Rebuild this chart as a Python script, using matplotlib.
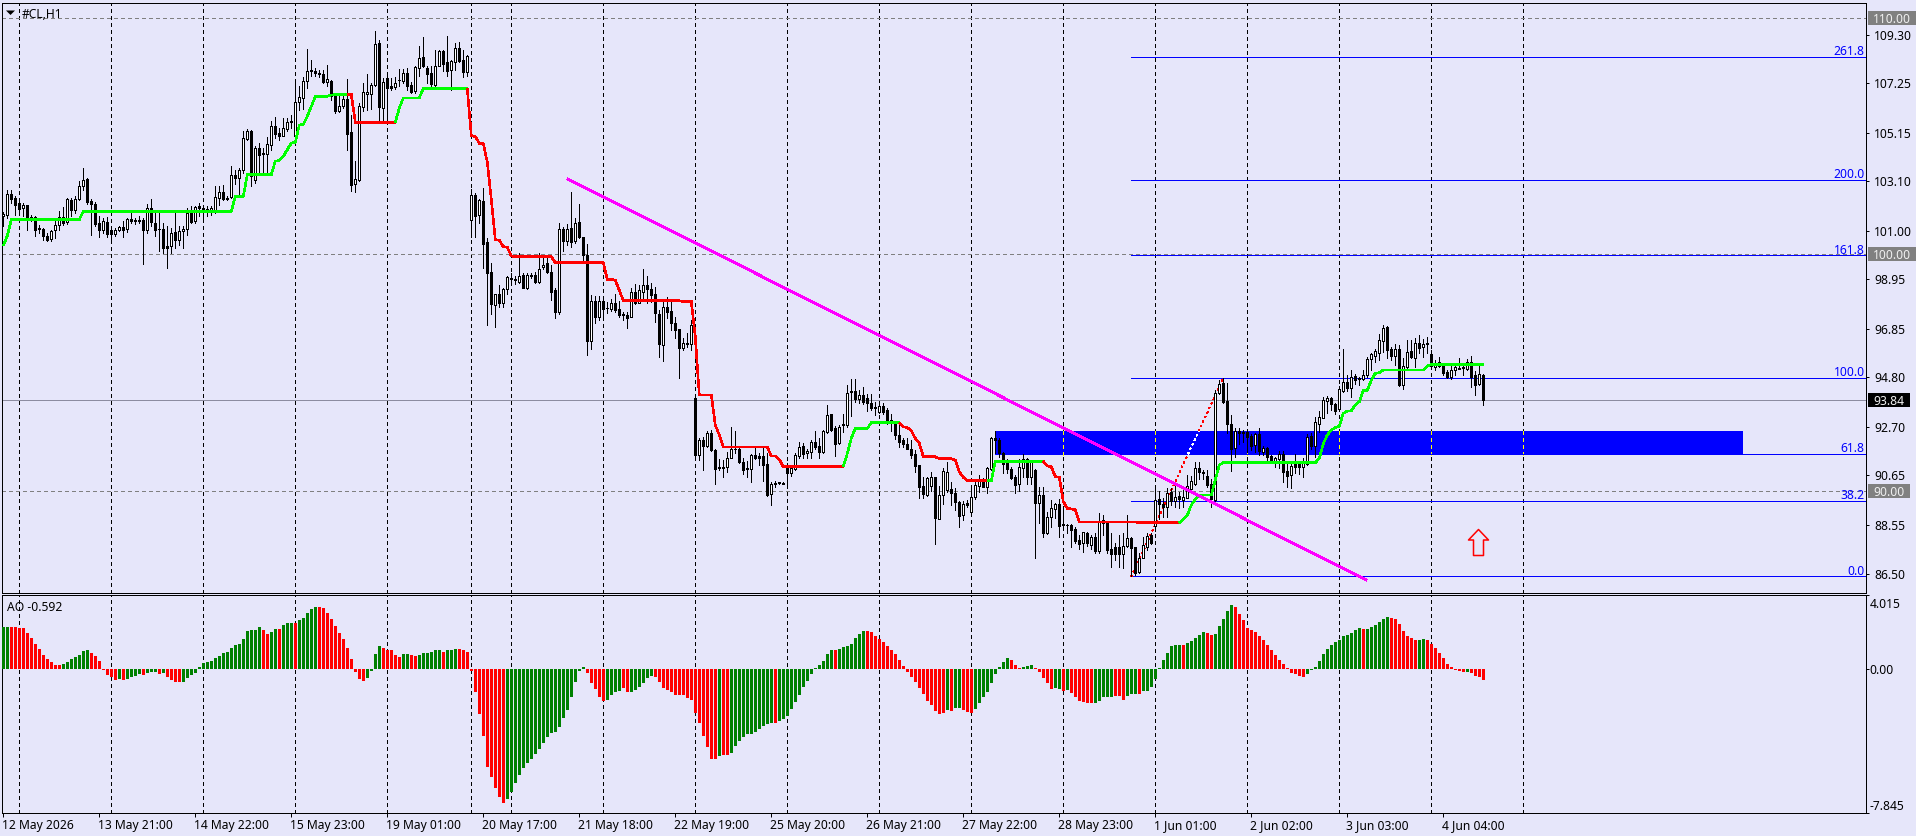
import matplotlib
matplotlib.use("Agg")
import matplotlib.pyplot as plt
import matplotlib.transforms as mtransforms
from matplotlib.patches import Polygon, Rectangle
from matplotlib.path import Path
import numpy as np

# Hourly #CL candles
opens = [
    101.61,101.68,102.54,102.39,102.18,101.96,102.09,101.47,101.58,101.10,
    101.08,100.79,100.65,101.02,101.23,101.58,101.36,102.32,101.86,102.34,
    102.88,103.19,102.26,102.15,101.33,101.02,101.39,101.05,100.85,101.02,
    101.16,101.08,101.51,101.47,101.47,101.47,101.05,101.96,101.33,101.09,
    101.08,100.34,100.37,100.93,100.60,100.98,101.08,101.75,101.40,102.05,
    101.98,101.92,101.86,101.81,102.40,102.65,102.37,102.42,103.37,103.22,
    103.56,104.88,105.22,103.16,104.50,104.29,104.25,104.63,105.45,105.14,
    105.02,105.31,105.64,104.99,106.43,106.60,107.34,107.80,107.76,107.69,
    107.65,107.31,107.34,106.69,106.05,106.26,106.57,105.16,102.97,103.15,
    106.24,106.80,106.80,107.15,108.94,106.18,107.45,107.11,107.08,107.37,
    107.34,107.67,107.18,106.90,107.89,108.36,107.90,107.67,107.18,107.98,
    108.60,108.13,107.82,108.15,108.73,108.21,107.70,101.45,102.51,101.66,
    102.24,100.52,99.25,97.87,98.31,97.93,98.52,98.99,98.96,98.85,
    99.11,98.58,99.15,99.11,98.83,99.45,99.62,99.27,98.49,97.56,
    101.07,100.55,101.10,100.55,101.37,100.72,99.99,96.35,98.01,97.36,
    98.01,97.74,97.70,97.93,97.67,97.48,97.45,97.35,98.39,97.96,
    98.42,98.69,98.55,98.32,97.50,96.18,97.77,97.59,97.08,96.83,
    96.04,96.26,96.22,93.91,91.51,92.15,91.89,92.43,91.72,91.02,
    91.00,91.02,91.41,91.78,91.78,91.20,90.95,90.91,91.50,91.47,
    91.47,91.13,89.85,90.30,90.33,90.33,91.05,90.74,90.93,91.47,
    91.89,91.58,91.64,92.06,91.89,91.65,92.48,93.25,92.64,92.03,
    92.82,92.78,94.18,94.21,93.87,94.05,93.94,93.73,93.56,93.35,
    93.58,93.42,92.99,92.88,92.37,92.15,91.98,91.79,91.55,91.09,
    90.21,89.83,90.20,90.57,88.82,89.81,90.03,90.06,89.89,89.52,
    88.96,89.47,89.10,89.72,90.20,90.45,90.17,90.93,92.22,92.17,
    91.61,91.16,90.91,90.57,90.27,90.96,91.33,90.57,90.88,89.50,
    89.82,88.23,88.88,89.24,89.44,88.58,88.57,88.54,88.38,87.92,
    87.80,88.20,87.70,88.06,87.47,88.76,88.71,87.56,87.61,87.63,
    87.32,87.66,88.00,87.61,86.56,87.17,87.63,88.13,88.51,89.64,
    89.44,89.33,89.95,89.58,89.78,89.61,89.71,90.09,90.31,90.95,
    90.81,90.62,90.29,89.61,94.15,94.54,93.80,92.82,91.80,92.51,
    92.50,92.49,92.33,91.92,92.40,91.65,91.81,91.47,91.19,91.36,
    91.55,90.84,90.67,91.16,91.19,91.02,91.13,92.32,91.89,92.84,
    93.09,93.81,93.92,93.67,93.47,94.21,94.60,94.33,94.85,94.77,
    94.71,94.91,95.56,95.71,95.84,96.35,96.91,95.99,95.71,96.02,
    94.47,95.25,95.90,95.63,96.24,96.07,96.24,95.78,95.25,95.47,
    95.32,95.02,94.80,95.11,95.19,95.22,95.15,95.47,94.90,94.52,
    94.90,
]
highs = [
    101.81,102.71,102.71,102.46,102.25,102.18,102.09,101.68,101.64,101.26,
    101.10,100.91,101.05,101.47,101.82,102.01,102.39,102.39,102.46,103.09,
    103.66,103.23,102.34,102.20,101.61,101.54,101.58,101.19,101.12,101.19,
    101.40,101.54,101.75,101.54,101.64,101.54,102.15,102.34,101.75,101.75,
    101.33,101.19,101.12,101.75,101.19,101.19,101.96,102.04,102.06,102.18,
    102.10,102.04,102.06,102.88,102.91,102.95,102.46,103.75,103.58,103.66,
    105.21,105.30,105.25,104.57,104.71,104.50,104.97,105.63,105.81,105.35,
    105.77,105.77,105.91,107.39,107.14,107.50,108.69,108.24,107.89,107.81,
    107.79,108.03,107.36,106.83,106.83,106.69,107.42,105.91,103.94,106.40,
    107.25,107.65,107.25,109.45,109.06,107.46,107.56,107.46,107.50,107.84,
    107.84,107.89,107.28,107.96,108.80,109.20,107.98,107.96,108.66,108.66,
    108.66,109.23,108.24,108.94,109.00,108.66,108.45,102.78,102.61,102.33,
    102.79,100.68,99.62,98.32,98.70,98.56,99.08,99.23,99.08,100.04,
    99.20,99.23,99.23,99.27,100.04,99.83,99.90,99.55,98.56,101.34,
    101.17,101.28,102.64,101.52,102.13,100.75,100.44,98.28,98.24,98.24,
    98.24,98.00,98.10,98.32,98.04,97.58,97.58,98.60,98.73,98.70,
    99.39,99.08,98.77,98.63,97.65,98.07,98.18,98.00,97.36,96.83,
    96.45,96.66,97.22,93.91,92.22,92.29,92.53,92.57,91.75,91.33,
    91.30,91.65,92.68,92.51,91.87,91.41,91.27,91.55,91.89,91.58,
    91.84,91.58,90.38,90.43,90.38,90.38,91.16,91.09,91.58,92.08,
    92.01,91.75,92.17,92.54,92.22,92.57,93.63,93.27,92.74,92.78,
    93.27,94.47,94.71,94.71,94.26,94.40,94.09,94.09,93.77,93.77,
    93.70,93.49,93.27,92.91,92.78,92.22,92.22,92.15,91.72,91.09,
    90.57,90.60,90.81,90.60,90.20,90.95,91.22,90.38,90.10,89.58,
    89.58,89.61,90.24,90.38,90.67,90.53,91.02,92.29,92.53,92.22,
    91.65,91.33,91.02,90.67,91.33,91.55,91.41,91.30,90.91,90.17,
    90.17,89.12,89.61,89.47,89.67,89.21,88.59,88.59,88.48,88.13,
    88.27,88.27,88.13,88.23,89.05,88.97,88.72,88.20,87.78,88.13,
    88.20,88.97,88.03,87.63,87.35,88.06,88.20,88.20,90.06,90.00,
    89.68,90.10,90.10,90.31,89.96,90.03,90.67,90.62,91.24,91.23,
    90.88,90.88,90.52,94.26,94.69,94.76,94.54,93.20,92.64,92.64,
    92.57,92.57,92.40,92.43,92.64,91.89,91.84,91.51,91.44,91.70,
    91.70,91.23,91.13,91.54,91.27,91.37,92.40,92.46,93.13,93.39,
    93.95,94.01,93.98,93.70,94.43,96.02,94.90,95.11,94.94,94.83,
    95.11,95.64,95.84,96.02,96.63,97.01,96.97,96.07,96.21,96.17,
    95.60,96.38,96.38,96.45,96.59,96.41,96.49,95.95,95.53,95.67,
    95.39,95.11,95.42,95.36,95.60,95.42,95.56,95.70,95.08,95.32,
    94.94,
]
lows = [
    101.22,101.54,102.18,101.68,101.68,101.61,101.05,101.40,100.77,100.91,
    100.59,100.55,100.55,100.69,101.05,101.26,101.30,101.61,101.75,102.32,
    102.74,102.15,100.84,101.19,100.74,100.91,100.74,100.48,100.79,100.98,
    100.74,100.93,101.33,101.30,101.33,99.61,100.91,101.19,100.79,100.13,
    100.06,99.41,100.06,100.27,100.41,100.27,100.84,101.33,101.33,101.61,
    101.47,101.61,101.68,101.75,102.10,102.32,102.32,102.39,102.99,102.46,
    103.44,104.85,102.91,103.02,103.37,103.47,103.44,104.43,104.93,104.85,
    104.99,105.21,105.35,104.97,106.12,106.15,107.04,107.53,107.56,107.50,
    107.25,107.11,106.55,105.98,106.01,106.19,104.43,102.67,102.63,103.09,
    106.05,106.12,106.15,107.11,105.56,105.56,105.56,106.97,106.99,107.11,
    107.25,106.97,106.83,106.83,107.53,107.93,107.25,107.00,107.14,107.96,
    107.74,107.56,106.97,107.82,108.13,107.50,107.56,100.75,100.75,101.31,
    99.41,97.01,97.50,96.94,97.76,97.76,98.32,98.70,98.75,98.77,
    98.56,98.52,98.99,98.77,98.80,99.39,99.23,98.07,97.29,97.48,
    100.16,100.40,100.30,100.49,100.68,99.76,95.74,96.02,97.08,97.22,
    97.36,97.53,97.62,97.58,97.36,97.22,96.90,97.34,97.90,97.93,
    98.04,97.93,98.00,97.15,95.67,95.50,97.29,96.80,96.45,94.76,
    95.95,96.09,95.95,91.33,91.30,90.88,91.84,91.70,90.29,90.88,
    90.60,90.81,91.37,91.58,91.16,90.71,90.57,90.37,91.33,91.09,
    90.43,89.78,89.40,90.17,90.31,90.29,90.24,90.62,90.88,91.37,
    91.41,91.37,91.41,91.79,91.37,91.58,92.46,92.54,91.47,91.98,
    92.50,92.71,93.16,93.77,93.70,93.67,93.39,93.44,93.20,93.30,
    93.25,92.82,92.54,92.18,91.84,91.84,91.75,91.37,90.81,89.68,
    89.68,89.78,90.00,87.75,88.79,89.44,89.96,89.40,89.19,88.48,
    88.76,89.33,89.02,89.64,89.96,90.17,89.92,90.88,91.58,91.44,
    90.77,90.77,90.48,89.89,90.00,90.57,90.31,90.29,87.14,88.62,
    88.03,88.17,88.48,88.83,88.06,88.51,88.23,87.63,87.78,87.56,
    87.42,87.66,87.56,87.35,87.35,88.13,87.35,86.79,87.07,86.79,
    86.72,87.61,86.39,86.44,86.51,87.14,87.49,87.75,88.30,88.79,
    88.90,88.90,89.40,89.33,89.26,89.33,89.68,90.03,90.24,90.52,
    90.48,90.17,89.30,89.44,94.09,93.73,92.43,90.85,91.44,91.98,
    92.08,91.65,91.72,91.65,91.51,91.51,91.30,91.16,90.99,90.95,
    90.38,90.15,90.10,90.74,90.71,90.60,91.09,91.79,91.44,92.50,
    93.06,93.30,93.44,93.25,93.42,94.18,94.23,93.95,94.52,94.49,
    94.69,94.83,95.11,95.46,95.53,95.88,95.60,95.53,95.32,94.43,
    94.29,95.17,95.60,95.25,95.84,95.64,95.84,95.25,95.11,95.22,
    94.90,94.76,94.74,94.90,95.14,94.90,95.11,94.40,94.05,94.47,
    93.63,
]
closes = [
    101.70,102.54,102.36,102.08,101.93,102.08,101.44,101.58,101.05,101.08,
    100.79,100.63,100.99,101.24,101.57,101.33,102.34,101.86,102.34,102.91,
    103.15,102.20,102.12,101.30,101.02,101.40,100.88,100.85,101.05,101.16,
    101.05,101.51,101.40,101.41,101.41,101.05,101.96,101.36,101.05,101.06,
    100.29,100.29,100.91,100.60,100.99,101.08,101.75,101.39,102.01,101.98,
    101.89,101.88,101.98,102.43,102.64,102.34,102.34,103.36,103.22,103.58,
    104.92,105.22,103.30,104.49,104.22,104.25,104.67,105.45,105.08,105.02,
    105.35,105.62,105.59,106.45,106.66,107.35,107.76,107.74,107.67,107.65,
    107.31,107.42,106.69,106.05,106.26,106.59,105.11,102.94,103.19,106.26,
    106.87,106.86,107.18,108.91,106.24,107.29,107.03,107.05,107.27,107.39,
    107.67,107.11,106.88,107.91,108.31,107.98,107.62,107.21,107.98,108.60,
    108.04,107.76,108.18,108.73,108.17,107.70,108.38,102.51,101.62,102.30,
    100.44,99.23,97.90,98.31,97.96,98.52,99.03,98.94,98.92,99.10,
    98.56,99.15,99.08,98.83,99.39,99.56,99.27,98.42,97.56,101.06,
    100.58,101.09,100.54,101.34,100.72,99.99,96.35,98.01,97.34,98.01,
    97.70,97.72,97.93,97.65,97.45,97.42,97.31,98.39,97.96,98.49,
    98.69,98.52,98.29,97.53,96.22,97.76,97.58,97.08,96.80,96.04,
    96.24,96.22,97.03,91.51,92.15,91.89,92.46,91.72,90.93,90.96,
    90.98,91.41,91.75,91.75,91.22,90.88,90.91,91.51,91.39,91.41,
    91.09,89.82,90.31,90.34,90.38,90.31,90.77,90.95,91.50,91.84,
    91.55,91.67,92.06,91.84,91.65,92.51,93.22,92.57,91.99,92.71,
    92.77,94.15,94.21,93.87,94.04,93.75,93.70,93.50,93.51,93.58,
    93.32,92.96,92.85,92.37,92.08,91.98,91.79,91.51,91.04,90.17,
    89.86,90.55,90.57,88.83,89.81,90.82,90.79,89.89,89.52,88.93,
    89.44,89.42,89.72,90.24,90.48,90.17,90.95,92.22,92.15,91.58,
    91.13,90.91,90.53,90.24,90.99,91.33,90.57,91.24,89.50,89.82,
    88.23,88.88,89.26,89.43,88.51,88.54,88.54,88.34,87.89,87.75,
    88.24,87.78,88.06,87.47,88.73,88.65,87.49,87.32,87.32,87.32,
    87.68,88.00,87.58,86.53,87.18,87.69,88.09,87.80,89.61,89.44,
    89.30,89.89,89.58,89.75,89.64,89.72,90.20,90.41,90.95,90.78,
    90.76,90.24,89.67,94.15,94.50,93.77,92.82,91.78,92.54,92.46,
    92.43,92.26,91.89,92.39,91.70,91.80,91.44,91.19,91.37,91.54,
    90.79,90.64,91.05,91.02,91.02,91.16,92.26,91.89,92.91,93.11,
    93.84,93.92,93.67,93.36,94.29,94.60,94.33,94.83,94.69,94.71,
    94.91,95.57,95.77,95.90,96.38,96.87,95.95,95.71,95.98,94.47,
    95.28,95.88,95.67,96.24,96.04,96.19,96.19,95.28,95.39,95.28,
    94.97,94.80,95.11,95.22,95.16,95.18,95.45,94.83,94.47,94.94,
    93.84,
]

# Trailing stop line, one value per candle
stop_line = (
    [100.37, 100.79] + [101.47]*18 + [101.82]*38 + [102.46]*3 + [103.37]*7
    + [103.95, 103.97, 104.15, 104.43, 104.71, 104.74, 105.47, 105.50, 105.84, 106.26, 106.67]
    + [106.69]*3 + [106.74] + [106.76]*5 + [105.59]*11 + [106.19] + [106.62]*5 + [107.01]*12
    + [105.02, 104.99, 104.70, 104.69, 103.90, 102.32, 100.62, 100.60, 100.33, 100.30, 99.93]
    + [99.90]*10 + [99.65]*13 + [98.94, 98.94, 98.91, 98.49] + [98.04]*15 + [98.00]*3
    + [96.52] + [94.05]*4 + [92.78, 92.36] + [91.86]*12 + [91.47, 91.47, 91.33] + [91.02]*16
    + [91.58, 92.22] + [92.64]*4 + [92.88]*8
    + [92.71, 92.68, 92.54, 92.22, 92.01] + [91.44]*4 + [91.36]*4 + [91.30, 90.81, 90.57]
    + [90.43]*7 + [91.25]*13 + [91.05, 91.02, 90.60, 90.57, 89.54, 89.26, 89.23, 89.21]
    + [88.69]*15 + [88.65]*11 + [88.79, 88.97, 89.40, 89.64] + [89.82]*4 + [90.46, 91.09]
    + [91.19]*24 + [91.37, 92.00, 92.36, 92.57, 92.67, 92.74, 93.28, 93.37, 93.39, 93.63, 93.77,
       94.24, 94.25, 94.68, 94.97, 95.00] + [95.11]*11 + [95.28] + [95.34]*14
)
# Alternating run lengths of the stop line, starting with the bullish colour
stop_runs = [87, 12, 18, 94, 14, 22, 14, 34, 76]

# Awesome Oscillator values
ao_values = [
    2.29,2.29,2.29,2.29,2.25,2.24,1.98,1.69,1.38,1.09,
    0.78,0.53,0.38,0.22,0.22,0.27,0.40,0.56,0.65,0.78,
    1.00,1.04,0.87,0.71,0.44,-0.04,-0.33,-0.44,-0.60,-0.56,
    -0.60,-0.53,-0.44,-0.36,-0.29,-0.33,-0.22,-0.18,-0.16,-0.27,
    -0.22,-0.44,-0.60,-0.71,-0.71,-0.71,-0.49,-0.33,-0.24,0.11,
    0.35,0.38,0.44,0.60,0.71,0.87,0.93,1.15,1.31,1.36,
    1.64,2.04,2.13,2.13,2.29,2.13,1.91,2.02,2.18,2.18,
    2.40,2.51,2.51,2.51,2.67,2.78,3.05,3.27,3.38,3.38,
    3.33,3.05,2.73,2.35,1.96,1.64,1.15,0.55,-0.16,-0.55,
    -0.65,-0.49,-0.11,0.82,1.25,1.15,1.04,1.04,0.76,0.65,
    0.82,0.82,0.76,0.71,0.76,0.87,0.87,0.93,1.04,1.04,
    0.93,1.04,1.04,1.09,1.09,1.04,0.93,-0.11,-1.25,-2.45,
    -3.65,-5.35,-5.89,-6.49,-6.98,-7.31,-7.09,-6.71,-6.22,-5.78,
    -5.40,-5.13,-4.91,-4.64,-4.36,-4.04,-3.71,-3.49,-3.44,-3.16,
    -2.67,-2.24,-1.51,-0.71,-0.11,0.11,-0.22,-0.76,-1.09,-1.53,
    -1.75,-1.69,-1.42,-1.25,-1.20,-1.02,-1.24,-1.25,-1.15,-0.98,
    -0.75,-0.49,-0.38,-0.44,-0.71,-1.04,-1.15,-1.25,-1.42,-1.42,
    -1.42,-1.58,-1.69,-2.40,-2.95,-3.65,-4.25,-4.91,-4.91,-4.75,
    -4.69,-4.69,-4.58,-4.20,-3.93,-3.71,-3.55,-3.53,-3.44,-3.27,
    -3.11,-3.00,-2.95,-2.95,-2.84,-2.73,-2.56,-2.18,-1.80,-1.42,
    -0.98,-0.65,-0.27,0.05,0.22,0.44,0.82,1.04,1.04,1.09,
    1.20,1.25,1.36,1.69,1.91,2.07,2.07,2.02,1.80,1.64,
    1.47,1.25,1.04,0.82,0.49,0.16,-0.15,-0.42,-0.69,-1.05,
    -1.36,-1.75,-1.96,-2.29,-2.45,-2.40,-2.24,-2.29,-2.13,-2.13,
    -2.24,-2.33,-2.38,-2.18,-1.87,-1.55,-1.27,-0.78,-0.27,0.11,
    0.38,0.60,0.49,0.22,0.05,0.11,0.16,0.22,0.05,-0.16,
    -0.47,-0.78,-1.09,-1.02,-1.11,-1.18,-1.15,-1.33,-1.51,-1.75,
    -1.78,-1.84,-1.85,-1.84,-1.75,-1.55,-1.51,-1.51,-1.45,-1.47,
    -1.69,-1.47,-1.38,-1.36,-1.36,-1.20,-1.20,-1.00,-0.56,0.05,
    0.49,0.87,1.25,1.31,1.31,1.31,1.42,1.53,1.69,1.85,
    2.02,1.96,1.85,1.91,2.35,2.73,3.16,3.49,3.38,3.00,
    2.67,2.24,2.13,2.02,1.80,1.58,1.31,1.04,0.76,0.49,
    0.27,0.05,-0.22,-0.27,-0.38,-0.44,-0.27,-0.05,0.11,0.44,
    0.82,1.09,1.31,1.47,1.58,1.80,1.85,1.96,2.13,2.24,
    2.18,2.18,2.29,2.40,2.56,2.73,2.84,2.78,2.73,2.45,
    2.07,1.80,1.69,1.58,1.58,1.64,1.58,1.36,1.15,0.87,
    0.60,0.27,0.11,-0.05,-0.11,-0.16,-0.16,-0.22,-0.38,-0.44,
    -0.592,
]
# Alternating run lengths of the histogram colours, starting with green
ao_runs = [2,13,7,7,1,1,4,1,3,1,1,4,20,2,2,1,3,1,5,12,4,5,2,2,6,1,3,12,20,5,4,2,6,16,1,2,11,1,
           14,1,7,20,1,1,2,3,9,3,3,5,2,1,1,6,5,3,3,1,10,1,5,2,5,18,14,1,6,7,2,10,1,4]

date_labels = ["12 May 2026", "13 May 21:00", "14 May 22:00", "15 May 23:00",
               "19 May 01:00", "20 May 17:00", "21 May 18:00", "22 May 19:00",
               "25 May 20:00", "26 May 21:00", "27 May 22:00", "28 May 23:00",
               "1 Jun 01:00", "2 Jun 02:00", "3 Jun 03:00", "4 Jun 04:00"]
date_label_step = 24
price_ticks = [109.30, 107.25, 105.15, 103.10, 101.00, 98.95, 96.85,
               94.80, 92.70, 90.65, 88.55, 86.50]
round_levels = [110.00, 100.00, 90.00]
session_bars = [4, 27, 50, 73, 96, 117, 127, 150, 173, 196, 219, 242, 265, 288, 311, 334, 357, 380]

fib_ratios = [0.0, 38.2, 61.8, 100.0, 161.8, 200.0, 261.8]
fib_low, fib_high = 86.38, 94.77
fib_start_bar = 282
fib_end_bar = 305

zone_left, zone_right = 248, 434.9
zone_bottom, zone_top = 91.53, 92.53

trend_bars = [141, 340.9]
trend_prices = [103.20, 86.22]

signal_bar, signal_price = 368.75, 87.83

BG = "#E6E6FA"
W, H = 1916, 836
FONT = "Noto Sans"
FS = 8.7

plt.rcParams["font.family"] = FONT
fig = plt.figure(figsize=(W / 100, H / 100), dpi=100, facecolor=BG)


def fig_rect(left, top, right, bottom):
    return [left / W, 1 - bottom / H, (right - left) / W, (bottom - top) / H]


ax = fig.add_axes(fig_rect(2.3, 2.5, 1866.3, 592.5), facecolor=BG)
ao_ax = fig.add_axes(fig_rect(2.3, 594.5, 1866.3, 812.5), facecolor=BG, sharex=ax)
XMIN, XMAX = -0.25, 465.75
ax.set_xlim(XMIN, XMAX)
ax.set_ylim(85.70, 110.655)
ao_ax.set_ylim(-7.81, 4.05)

for a in (ax, ao_ax):
    for s in a.spines.values():
        s.set_linewidth(0.72)
        s.set_color("black")

px = 0.72
dash = (0, (3, 3))
bars = np.arange(len(closes))
opens_a, highs_a, lows_a, closes_a = map(np.array, (opens, highs, lows, closes))

# Session separators and round-number levels
for a in (ax, ao_ax):
    a.vlines(session_bars, 0, 1, transform=a.get_xaxis_transform(), colors="black",
             linewidth=px, linestyles=[dash], antialiased=False, zorder=1)
for lv in round_levels:
    ax.axhline(lv, color="#808080", lw=px, ls=dash, antialiased=False, zorder=1)

# Last price line
last_close = closes[-1]
ax.axhline(last_close, color="#8C8CA0", lw=px, antialiased=False, zorder=1.5)

# Supply zone, with the separators inverted where they cross it
zone = Rectangle((zone_left, zone_bottom), zone_right - zone_left, zone_top - zone_bottom,
                 facecolor="#0000FF", edgecolor="none", antialiased=False, zorder=2)
ax.add_patch(zone)
ax.vlines([b for b in session_bars if zone_left <= b <= zone_right], zone_bottom, zone_top,
          colors="#FFFF00", linewidth=px, linestyles=[dash], antialiased=False, zorder=2.1)

# Fibonacci expansion levels
for ratio in fib_ratios:
    level = fib_low + (fib_high - fib_low) * ratio / 100.0
    ax.plot([fib_start_bar, XMAX], [level, level], color="#0000FF", lw=px,
            antialiased=False, zorder=2.5, solid_capstyle="butt")
    ax.annotate(f"{ratio:.1f}", xy=(XMAX, level), xytext=(-1.5 * px, 1.7 * px),
                textcoords="offset points", ha="right", va="baseline",
                color="#0000FF", fontsize=FS, zorder=6)

# Fibonacci anchor line
anchor_x = [fib_start_bar, fib_end_bar]
anchor_y = [fib_low, fib_high]
ax.plot(anchor_x, anchor_y, color="#FF0000", lw=px, ls=(0, (1.5, 4)), antialiased=False, zorder=2.6)
white_part, = ax.plot(anchor_x, anchor_y, color="white", lw=px, ls=(0, (1.5, 4)),
                      antialiased=False, zorder=2.7)
white_part.set_clip_path(zone)

# Candles
ax.vlines(bars, lows_a, highs_a, colors="black", linewidth=px, antialiased=False, zorder=3)
up = closes_a >= opens_a
body_low = np.minimum(opens_a, closes_a)
body_h = np.abs(closes_a - opens_a)
ax.bar(bars[up], body_h[up], bottom=body_low[up], width=0.5, facecolor="white",
       edgecolor="black", linewidth=px, antialiased=False, zorder=3.1)
ax.bar(bars[~up], body_h[~up], bottom=body_low[~up], width=0.5, facecolor="black",
       edgecolor="black", linewidth=px, antialiased=False, zorder=3.1)

# Trailing stop, each run joined to the bar before it
assert len(stop_line) == len(closes) and sum(stop_runs) == len(closes)
pos = 0
for n, count in enumerate(stop_runs):
    first = max(pos - 1, 0)
    ax.plot(bars[first:pos + count], stop_line[first:pos + count],
            color="#00FF00" if n % 2 == 0 else "#FF0000", lw=1.15,
            antialiased=False, zorder=4, solid_capstyle="butt", solid_joinstyle="miter")
    pos += count

# Trend line
ax.plot(trend_bars, trend_prices, color="#FF00FF", lw=1.3, antialiased=False, zorder=5,
        solid_capstyle="butt")

# Signal arrow
arrow = Path([(0, 13), (10, 2.5), (5, 2.5), (5, -13), (-5, -13), (-5, 2.5), (-10, 2.5), (0, 13)], closed=True)
ax.plot([signal_bar], [signal_price], marker=arrow, markersize=26 * px, mfc="none",
        mec="#FF0000", mew=1.1, ls="none", zorder=5)

# Oscillator histogram
assert len(ao_values) == len(closes) and sum(ao_runs) == len(closes)
ao_colors = []
for n, count in enumerate(ao_runs):
    ao_colors += ["#008000" if n % 2 == 0 else "#FF0000"] * count
ao_ax.bar(bars, ao_values, width=0.72, color=ao_colors, linewidth=0, antialiased=False, zorder=3)

# Price scale
ax.yaxis.tick_right()
ax.set_yticks(price_ticks)
ax.set_yticklabels([f"{p:.2f}" for p in price_ticks], fontsize=FS, color="black")
ax.tick_params(axis="y", direction="out", length=3 * px, width=px, pad=3.4)
ax.tick_params(axis="x", length=0, labelbottom=False)

# Boxed round levels and last price on the scale
scale_tf = mtransforms.blended_transform_factory(fig.transFigure, ax.transData)
half_h = 7.0 / 23.64


def scale_box(price, text, face, right_px):
    fig.add_artist(Rectangle((1868 / W, price - half_h), (right_px - 1868) / W, 2 * half_h,
                             transform=scale_tf, facecolor=face, edgecolor="none",
                             clip_on=False, zorder=7))
    fig.text(1873 / W, price, text, transform=scale_tf, ha="left", va="center_baseline",
             color="#F0F0F0", fontsize=FS, zorder=8)


scale_box(110.00, "110.00", "#808080", 1916)
scale_box(100.00, "100.00", "#808080", 1916)
scale_box(90.00, "90.00", "#808080", 1910)
scale_box(last_close, f"{last_close:.2f}", "#000000", 1910)

# Oscillator scale: the top and bottom labels sit just inside the pane edges
ao_ax.yaxis.tick_right()
ao_ax.set_yticks([4.05, 0.0, -7.81])
ao_ax.set_yticklabels([])
ao_ax.tick_params(axis="y", direction="out", length=3 * px, width=px)
for val, text, dy in [(4.05, "4.015", -8.5), (0.0, "0.00", 0.0), (-7.81, "-7.845", 7.5)]:
    ao_ax.annotate(text, xy=(XMAX, val), xytext=(3.5 * px, dy * px), textcoords="offset points",
                   ha="left", va="center_baseline", fontsize=FS, color="black", annotation_clip=False)

# Time axis
tick_bars = [k * date_label_step for k in range(len(date_labels))]
ao_ax.set_xticks(tick_bars)
ao_ax.set_xticklabels(date_labels, fontsize=FS, color="black", ha="left")
ao_ax.tick_params(axis="x", direction="out", length=4 * px, width=px, pad=1.6)
shift = mtransforms.ScaledTranslation(-1 / 100, 0, fig.dpi_scale_trans)
for lab in ao_ax.get_xticklabels():
    lab.set_transform(lab.get_transform() + shift)

# Pane captions
fig.text(22 / W, 1 - 12.5 / H, "#CL,H1", ha="left", va="center_baseline", fontsize=FS, color="black")
fig.text(7 / W, 1 - 606 / H, f"AO {ao_values[-1]:.3f}", ha="left", va="center_baseline",
         fontsize=FS, color="black")
fig.add_artist(Polygon([(6 / W, 1 - 10.5 / H), (15 / W, 1 - 10.5 / H), (10.5 / W, 1 - 15 / H)],
                       closed=True, facecolor="black", edgecolor="none", transform=fig.transFigure))

fig.savefig("out.png", dpi=100, facecolor=BG)
